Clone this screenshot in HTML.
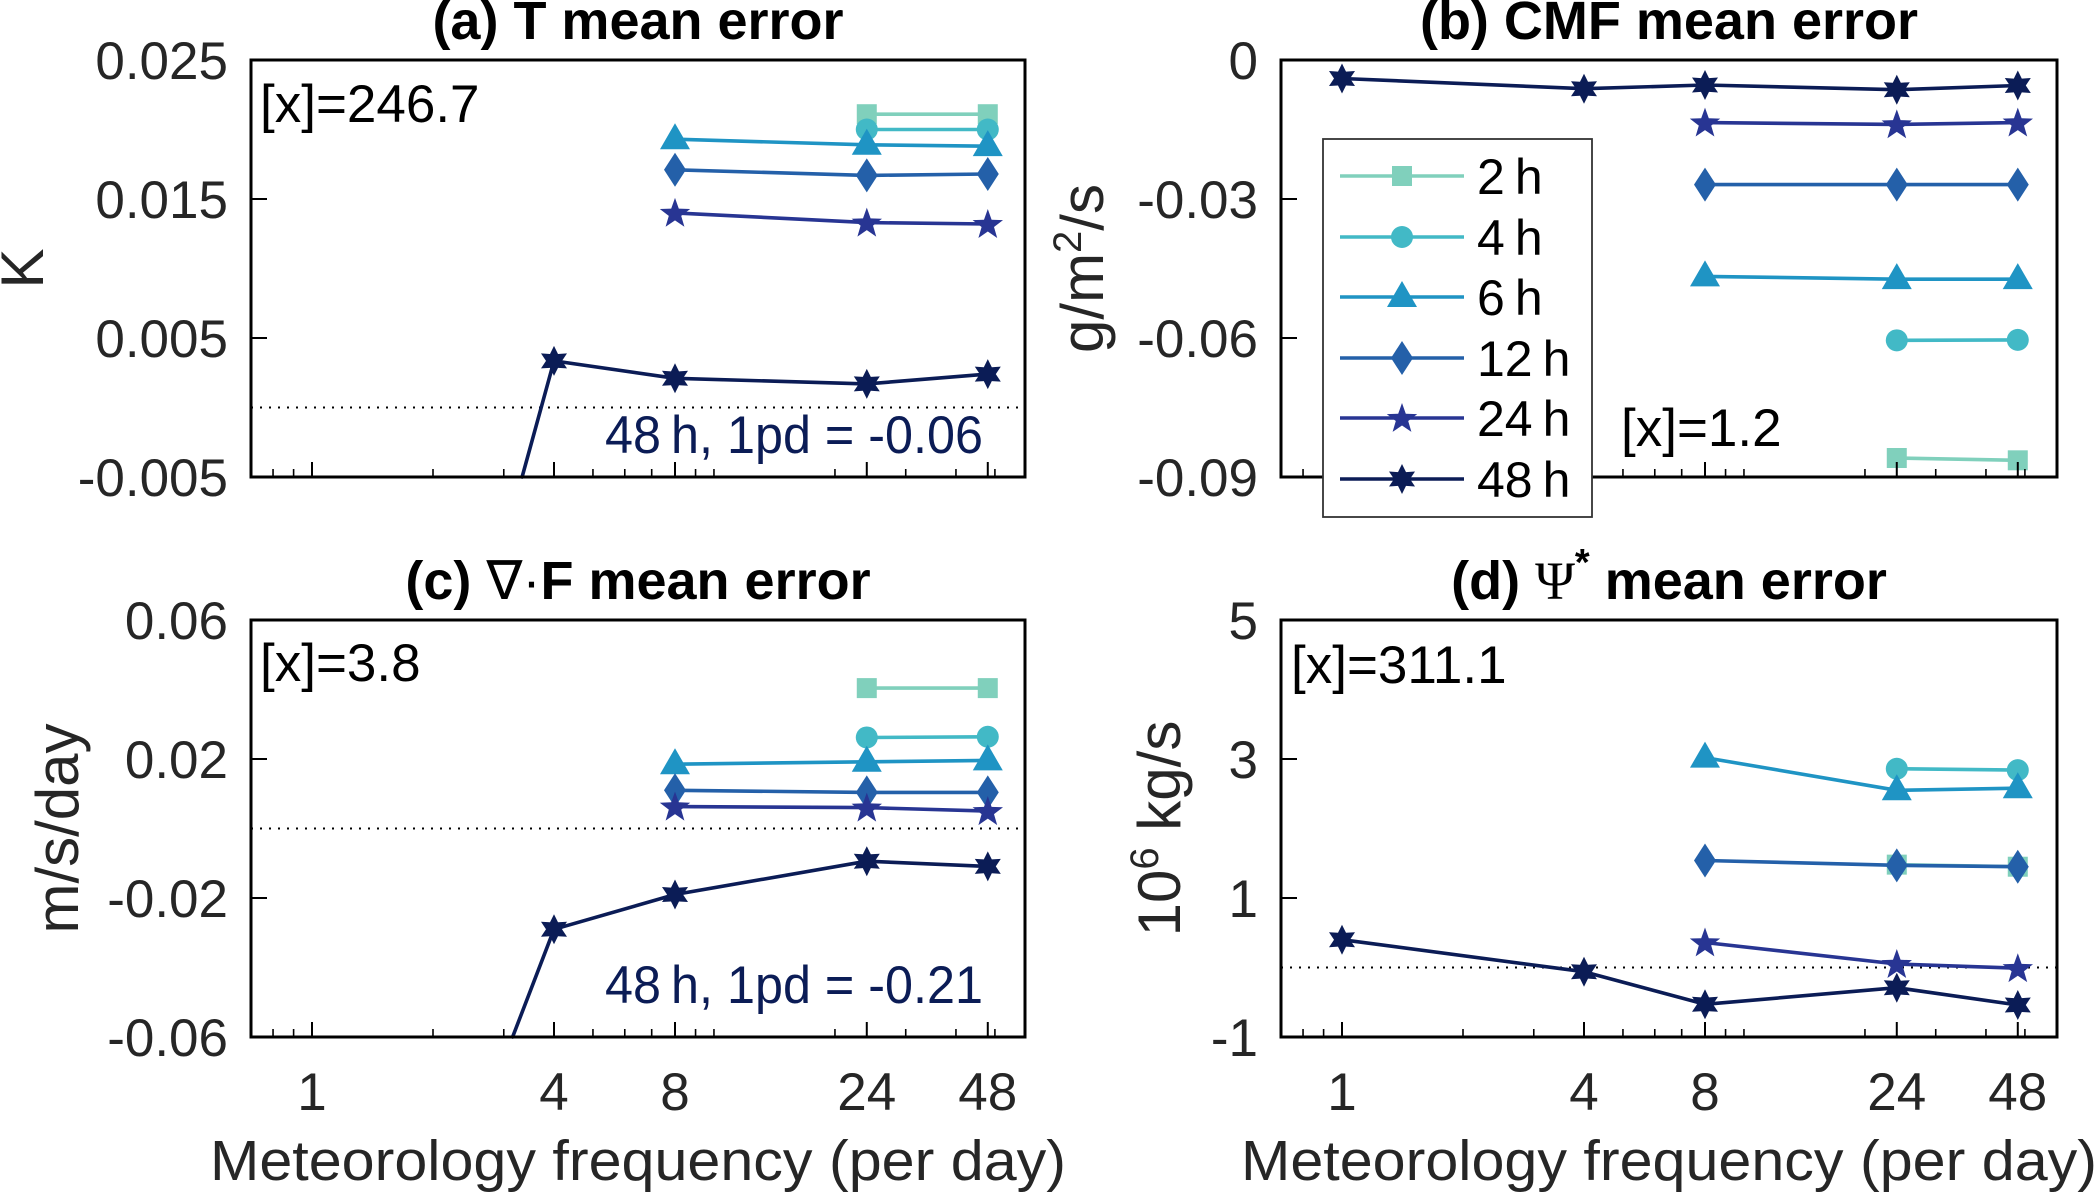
<!DOCTYPE html>
<html><head><meta charset="utf-8">
<style>
html,body{margin:0;padding:0;background:#fff;width:2098px;height:1197px;overflow:hidden;}
svg{display:block;font-family:"Liberation Sans",Arial,sans-serif;}
</style></head>
<body>
<svg id="fig" width="2098" height="1197" viewBox="0 0 2098 1197" xmlns="http://www.w3.org/2000/svg"></svg>
<script>
// ---- data ----
const freqs = [1, 4, 8, 24, 48];
const seriesNames = ["2h", "4h", "6h", "12h", "24h", "48h"];
const a_2h = [null, null, null, 0.0211, 0.0211];
const a_4h = [null, null, null, 0.0200, 0.0200];
const a_6h = [null, null, 0.0193, 0.0189, 0.0188];
const a_12h = [null, null, 0.0171, 0.0167, 0.0168];
const a_24h = [null, null, 0.0140, 0.0133, 0.0132];
const a_48h = [-0.06, 0.00335, 0.0021, 0.0017, 0.0024];
const b_2h = [null, null, null, -0.0859, -0.0864];
const b_4h = [null, null, null, -0.0605, -0.0604];
const b_6h = [null, null, -0.0467, -0.0473, -0.0473];
const b_12h = [null, null, -0.0269, -0.0269, -0.0269];
const b_24h = [null, null, -0.0135, -0.0139, -0.0135];
const b_48h = [-0.0040, -0.0062, -0.0054, -0.0064, -0.0055];
const c_2h = [null, null, null, 0.0404, 0.0404];
const c_4h = [null, null, null, 0.0262, 0.0264];
const c_6h = [null, null, 0.0185, 0.0192, 0.0196];
const c_12h = [null, null, 0.0110, 0.0104, 0.0104];
const c_24h = [null, null, 0.0063, 0.0060, 0.0050];
const c_48h = [-0.21, -0.0290, -0.0190, -0.0094, -0.0109];
const d_2h = [null, null, null, 1.48, 1.45];
const d_4h = [null, null, null, 2.86, 2.84];
const d_6h = [null, null, 3.02, 2.55, 2.58];
const d_12h = [null, null, 1.54, 1.47, 1.45];
const d_24h = [null, null, 0.36, 0.05, -0.01];
const d_48h = [0.40, -0.06, -0.53, -0.29, -0.54];
const a_ticks = [-0.005, 0.005, 0.015, 0.025];
const a_tickLabels = ["-0.005", "0.005", "0.015", "0.025"];
const b_ticks = [-0.09, -0.06, -0.03, 0];
const b_tickLabels = ["-0.09", "-0.06", "-0.03", "0"];
const c_ticks = [-0.06, -0.02, 0.02, 0.06];
const c_tickLabels = ["-0.06", "-0.02", "0.02", "0.06"];
const d_ticks = [-1, 1, 3, 5];
const d_tickLabels = ["-1", "1", "3", "5"];
const xMajor = [1, 4, 8, 24, 48];
const xMajorLabels = ["1", "4", "8", "24", "48"];
const xMinor = [0.8, 0.9, 2, 3, 5, 6, 7, 9, 10, 20, 30, 40, 50];

// ---- styling ----
const colors = ["#80d0bc", "#42b9c6", "#1f94c4", "#2460a9", "#283593", "#0b1c56"];
const markers = ["square", "circle", "triangle", "diamond", "star5", "star6"];
const NS = "http://www.w3.org/2000/svg";
const svg = document.getElementById("fig");
const TXT = "#262626";

function el(tag, attrs, parent) {
  const e = document.createElementNS(NS, tag);
  for (const k in attrs) e.setAttribute(k, attrs[k]);
  (parent || svg).appendChild(e);
  return e;
}
function starPts(cx, cy, n, ro, ri) {
  const p = [];
  for (let i = 0; i < 2 * n; i++) {
    const r = i % 2 ? ri : ro;
    const a = -Math.PI / 2 + i * Math.PI / n;
    p.push((cx + r * Math.cos(a)).toFixed(1) + "," + (cy + r * Math.sin(a)).toFixed(1));
  }
  return p.join(" ");
}
function marker(g, type, cx, cy, color) {
  let m;
  if (type === "square") m = el("rect", {x: cx - 10, y: cy - 10, width: 20, height: 20, fill: color}, g);
  else if (type === "circle") m = el("circle", {cx: cx, cy: cy, r: 11, fill: color}, g);
  else if (type === "triangle") m = el("polygon", {points: `${cx},${cy - 16} ${cx + 15},${cy + 10} ${cx - 15},${cy + 10}`, fill: color}, g);
  else if (type === "diamond") m = el("polygon", {points: `${cx},${cy - 17} ${cx + 11},${cy} ${cx},${cy + 17} ${cx - 11},${cy}`, fill: color}, g);
  else if (type === "star5") m = el("polygon", {points: starPts(cx, cy + 1, 5, 16, 6.5), fill: color}, g);
  else m = el("polygon", {points: starPts(cx, cy, 6, 15, 8), fill: color}, g);
  return m;
}
// clip segment to y-range [T,B]
function clipSeg(p, q, T, B) {
  let [x1, y1] = p, [x2, y2] = q;
  const lim = (ya, yb, yl) => (yl - ya) / (yb - ya);
  let t0 = 0, t1 = 1;
  const dy = y2 - y1;
  if (dy !== 0) {
    let ta = (T - y1) / dy, tb = (B - y1) / dy;
    const lo = Math.min(ta, tb), hi = Math.max(ta, tb);
    t0 = Math.max(t0, lo); t1 = Math.min(t1, hi);
  } else if (y1 < T || y1 > B) return null;
  if (t0 > t1) return null;
  return [[x1 + (x2 - x1) * t0, y1 + dy * t0], [x1 + (x2 - x1) * t1, y1 + dy * t1]];
}

function panel(cfg) {
  const L = cfg.left, R = cfg.right, T = cfg.top, B = cfg.bottom;
  const g = el("g", {});
  
  
  const X = f => L + 61 + Math.log2(f) * 121;
  const Y = v => B - (v - cfg.ymin) / (cfg.ymax - cfg.ymin) * (B - T);

  const t = el("text", {x: (L + R) / 2, y: T - 21, "text-anchor": "middle", "font-size": 54, "font-weight": "bold", fill: "#000"}, g);
  
  
  t.innerHTML = cfg.title;

  const z = el("line", {x1: L, x2: R, y1: Y(0), y2: Y(0), stroke: "#000", "stroke-width": 2, "stroke-dasharray": "2,7"}, g);
  
  

  const sg = el("g", {}, g);
  cfg.series.forEach((vals, si) => {
    const pts = [];
    vals.forEach((v, i) => { if (v !== null) pts.push([X(freqs[i]), Y(v)]); });
    for (let k = 0; k < pts.length - 1; k++) {
      const s = clipSeg(pts[k], pts[k + 1], T, B);
      if (!s) continue;
      const line = el("line", {x1: s[0][0].toFixed(1), y1: s[0][1].toFixed(1), x2: s[1][0].toFixed(1), y2: s[1][1].toFixed(1), stroke: colors[si], "stroke-width": 3.6, "stroke-linecap": "round"}, sg);
      
      
    }
    pts.forEach(p => {
      if (p[1] < T - 1 || p[1] > B + 1) return;
      const m = marker(sg, markers[si], p[0], p[1], colors[si]);
      
      
    });
  });

  const box = el("rect", {x: L, y: T, width: R - L, height: B - T, fill: "none", stroke: "#000", "stroke-width": 3}, g);
  
  

  cfg.ticks.forEach((v, i) => {
    const y = Y(v);
    el("line", {x1: L, x2: L + 16, y1: y, y2: y, stroke: "#000", "stroke-width": 2}, g);
    const lb = el("text", {x: L - 23, y: y + 19, "text-anchor": "end", "font-size": 53, fill: TXT}, g);
    
    
    lb.textContent = cfg.tickLabels[i];
  });
  xMajor.forEach((f, i) => {
    el("line", {x1: X(f), x2: X(f), y1: B, y2: B - 15, stroke: "#000", "stroke-width": 2}, g);
    if (cfg.xlabels) {
      const lb = el("text", {x: X(f), y: B + 73, "text-anchor": "middle", "font-size": 53, fill: TXT}, g);
      
      
      lb.textContent = xMajorLabels[i];
    }
  });
  xMinor.forEach(f => {
    el("line", {x1: X(f), x2: X(f), y1: B, y2: B - 8, stroke: "#000", "stroke-width": 1.6}, g);
  });
  if (cfg.xlabels) {
    const xl = el("text", {x: (L + R) / 2, y: 1180, "text-anchor": "middle", "font-size": 57, fill: TXT, textLength: 856, lengthAdjust: "spacingAndGlyphs"}, g);
    
    
    xl.textContent = "Meteorology frequency (per day)";
  }
  const yl = el("text", {transform: `translate(${cfg.ylx},${(T + B) / 2}) rotate(-90)`, "text-anchor": "middle", "font-size": 60, fill: TXT}, g);
  
  
  yl.innerHTML = cfg.ylabel;

  const ax = el("text", {x: cfg.ax, y: cfg.ay, "font-size": 53, fill: "#000"}, g);
  
  
  ax.textContent = cfg.annot;
  if (cfg.note) {
    const nt = el("text", {x: 605, y: cfg.noteY, "font-size": 53, fill: "#0b1c56", textLength: 378, lengthAdjust: "spacingAndGlyphs"}, g);
    
    
    nt.textContent = cfg.note;
  }
}

panel({id: "a", name: "panel-a-temperature", left: 251, right: 1025, top: 60, bottom: 477, ymin: -0.005, ymax: 0.025,
  title: "(a) T mean error", series: [a_2h, a_4h, a_6h, a_12h, a_24h, a_48h], ticks: a_ticks, tickLabels: a_tickLabels,
  ylabel: "K", ylx: 43, ax: 260, ay: 122, annot: "[x]=246.7", note: "48\u2009h, 1pd = -0.06", noteY: 453, xlabels: false});
panel({id: "b", name: "panel-b-cmf", left: 1281, right: 2057, top: 60, bottom: 477, ymin: -0.09, ymax: 0,
  title: "(b) CMF mean error", series: [b_2h, b_4h, b_6h, b_12h, b_24h, b_48h], ticks: b_ticks, tickLabels: b_tickLabels,
  ylabel: 'g/m<tspan dy="-22" font-size="40">2</tspan><tspan dy="22">/s</tspan>', ylx: 1103, ax: 1621, ay: 446, annot: "[x]=1.2", xlabels: false});
panel({id: "c", name: "panel-c-divergence", left: 251, right: 1025, top: 620, bottom: 1037, ymin: -0.06, ymax: 0.06,
  title: '(c) <tspan font-weight="normal">\u2207\u00b7</tspan>F mean error', series: [c_2h, c_4h, c_6h, c_12h, c_24h, c_48h], ticks: c_ticks, tickLabels: c_tickLabels,
  ylabel: "m/s/day", ylx: 78, ax: 260, ay: 681, annot: "[x]=3.8", note: "48\u2009h, 1pd = -0.21", noteY: 1003, xlabels: true});
panel({id: "d", name: "panel-d-streamfunction", left: 1281, right: 2057, top: 620, bottom: 1037, ymin: -1, ymax: 5,
  title: '(d) <tspan font-weight="normal" font-family="Liberation Serif, serif">\u03a8</tspan><tspan dy="-24" font-size="38">*</tspan><tspan dy="24"> mean error</tspan>', series: [d_2h, d_4h, d_6h, d_12h, d_24h, d_48h], ticks: d_ticks, tickLabels: d_tickLabels,
  ylabel: '10<tspan dy="-22" font-size="40">6</tspan><tspan dy="22"> kg/s</tspan>', ylx: 1180, ax: 1291, ay: 683, annot: "[x]=311.1", xlabels: true});

// ---- legend ----
const lg = el("g", {});


el("rect", {x: 1323, y: 139, width: 269, height: 378, fill: "#fff", stroke: "#333", "stroke-width": 1.8}, lg);
const legendY = [176, 237, 297, 358, 418, 479];
seriesNames.forEach((n, i) => {
  const eg = el("g", {}, lg);
  
  
  el("line", {x1: 1340, x2: 1464, y1: legendY[i], y2: legendY[i], stroke: colors[i], "stroke-width": 3.6}, eg);
  marker(eg, markers[i], 1402, legendY[i], colors[i]);
  const t = el("text", {x: 1477, y: legendY[i] + 18, "font-size": 50, fill: "#000"}, eg);
  t.textContent = n.replace("h", "\u2009h");
});
</script>
</body></html>
